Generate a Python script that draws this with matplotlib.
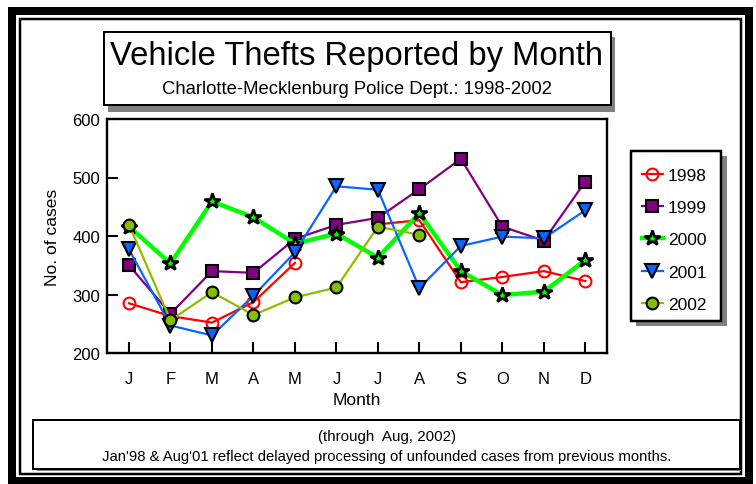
import numpy as np
import matplotlib
matplotlib.use("Agg")
import matplotlib.pyplot as plt
from matplotlib.patches import Rectangle

plt.rcParams['font.family'] = ['Liberation Sans', 'DejaVu Sans']

months = ['J', 'F', 'M', 'A', 'M', 'J', 'J', 'A', 'S', 'O', 'N', 'D']
nan = np.nan
y1998 = [285, 263, 252, 287, 354, nan, 420, 427, 321, 330, 340, 323]
y1999 = [350, 267, 340, 337, 395, 419, 431, 480, 532, 416, 392, 493]
y2000 = [416, 353, 459, 432, 387, 404, 363, 439, 340, 299, 305, 359]
y2001 = [377, 247, 230, 298, 372, 485, 479, 311, 383, 399, 396, 444]
y2002 = [419, 256, 304, 265, 295, 312, 416, 402, nan, nan, nan, nan]
years = ['1998', '1999', '2000', '2001', '2002']
yticks = [200, 300, 400, 500, 600]

W, H = 756, 485
fig = plt.figure(figsize=(W / 100, H / 100), dpi=100)

def rect(x0, y0, x1, y1, **kw):
    r = Rectangle((x0 / W, 1 - y1 / H), (x1 - x0) / W, (y1 - y0) / H,
                  transform=fig.transFigure, **kw)
    fig.patches.append(r)
    return r

PX = 0.72  # points per pixel

# outer frames
rect(12, 11.5, 749, 482, fill=False, ec='black', lw=8 * PX, zorder=0)
rect(19.5, 19.5, 741.3, 475.3, fill=False, ec='black', lw=2.5 * PX, zorder=0)

# title box
rect(108, 38, 615, 113, fc='#808080', ec='none', zorder=1)
rect(103.7, 32.7, 611, 106.3, fc='white', ec='black', lw=2 * PX, zorder=2)
fig.text(357 / W, 1 - 57 / H, 'Vehicle Thefts Reported by Month',
         fontsize=23.6, ha='center', va='center', zorder=3)
fig.text(357 / W, 1 - 90 / H, 'Charlotte-Mecklenburg Police Dept.: 1998-2002',
         fontsize=13.3, ha='center', va='center', zorder=3)

# footer box
rect(37, 425, 741, 472, fc='#808080', ec='none', zorder=1)
rect(33.3, 421, 740, 469.5, fc='white', ec='black', lw=2 * PX, zorder=2)
fig.text(387 / W, 1 - 437 / H, '(through  Aug, 2002)',
         fontsize=10.9, ha='center', va='center', zorder=3)
fig.text(387 / W, 1 - 457 / H,
         "Jan'98 & Aug'01 reflect delayed processing of unfounded cases from previous months.",
         fontsize=10.7, ha='center', va='center', zorder=3)

# legend box
rect(636, 157, 727, 327, fc='#808080', ec='none', zorder=1)
rect(631, 152.3, 721, 321.7, fc='white', ec='black', lw=2.5 * PX, zorder=2)

# axes
ax = fig.add_axes([107 / W, 1 - 354 / H, 500 / W, 234 / H])
x = np.arange(1, 13)
styles = [
    dict(color='#FF0000', lw=1.6, marker='o', ms=8.5, mfc='none', mec='#FF0000', mew=1.5),
    dict(color='#800080', lw=1.6, marker='s', ms=9, mfc='#800080', mec='black', mew=1.5),
    dict(color='#00FF00', lw=3.2, marker='*', ms=11.5, mfc='#00FF00', mec='black', mew=1.9),
    dict(color='#0A64FF', lw=1.6, marker='v', ms=9.5, mfc='#0A64FF', mec='black', mew=1.5),
    dict(color='#8CBE00', lw=1.6, marker='o', ms=8.5, mfc='#80C000', mec='black', mew=1.5),
]
handles = []
for yv, lab, st in zip([y1998, y1999, y2000, y2001, y2002], years, styles):
    h, = ax.plot(x, yv, label=lab, clip_on=False, **st)
    handles.append(h)

ax.set_xlim(0.4696, 12.523)
ax.set_ylim(200, 600)
ax.set_xticks(x)
ax.set_xticklabels(months)
ax.set_yticks(yticks)
ax.tick_params(direction='in', length=8, width=1.5, labelsize=12)
ax.tick_params(axis='x', pad=13)
ax.tick_params(axis='y', pad=5)
for s in ax.spines.values():
    s.set_linewidth(1.7)
ax.set_xlabel('Month', fontsize=12.5, labelpad=4)
ax.set_ylabel('No. of cases', fontsize=12.5, labelpad=9)

fig.legend(handles, years, loc='upper left',
           bbox_to_anchor=(642 / W, 1 - 169 / H), frameon=False,
           fontsize=12.5, handlelength=1.2, handletextpad=0.3,
           labelspacing=0.98, borderpad=0, borderaxespad=0)

fig.savefig('out.png', dpi=100)
